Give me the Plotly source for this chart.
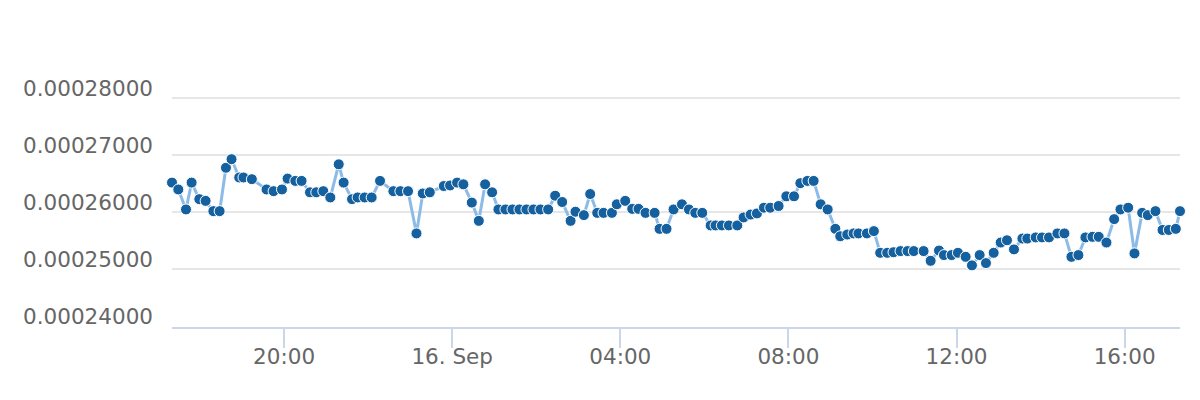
import plotly.graph_objects as go

# Time stamps (HH:MM) on 15 Sep and 16 Sep
times_day1 = ["17:20", "17:29", "17:40", "17:48", "17:59", "18:08", "18:19", "18:28", "18:37", "18:45",
              "18:56", "19:02", "19:14", "19:35", "19:45", "19:57", "20:05", "20:16", "20:25", "20:37",
              "20:46", "20:56", "21:06", "21:18", "21:25", "21:37", "21:45", "21:55", "22:05", "22:17",
              "22:36", "22:46", "22:57", "23:09", "23:18", "23:28", "23:48", "23:57"]
values_day1 = [0.0002652, 0.0002640, 0.0002605, 0.0002652, 0.0002623, 0.0002620, 0.0002602, 0.0002602,
               0.0002678, 0.0002693, 0.0002661, 0.0002661, 0.0002658, 0.0002640, 0.0002637, 0.0002640,
               0.0002659, 0.0002655, 0.0002655, 0.0002635, 0.0002635, 0.0002637, 0.0002626, 0.0002684,
               0.0002652, 0.0002623, 0.0002626, 0.0002626, 0.0002626, 0.0002655, 0.0002637, 0.0002637,
               0.0002637, 0.0002563, 0.0002633, 0.0002635, 0.0002646, 0.0002647]

times_day2 = ["00:07", "00:16", "00:28", "00:38", "00:47", "00:57", "01:06", "01:16", "01:26", "01:36",
              "01:46", "01:56", "02:06", "02:17", "02:27", "02:37", "02:49", "02:56", "03:08", "03:17",
              "03:27", "03:36", "03:48", "03:55", "04:07", "04:17", "04:26", "04:36", "04:49", "04:56",
              "05:06", "05:16", "05:28", "05:38", "05:47", "05:57", "06:09", "06:16", "06:25", "06:35",
              "06:47", "06:56", "07:06", "07:15", "07:25", "07:34", "07:46", "07:57", "08:08", "08:17",
              "08:27", "08:36", "08:46", "08:56", "09:07", "09:14", "09:24", "09:33", "09:40", "09:52",
              "10:02", "10:11", "10:21", "10:30", "10:40", "10:50", "10:59", "11:13", "11:23", "11:35",
              "11:42", "11:53", "12:02", "12:13", "12:22", "12:33", "12:42", "12:53", "13:03", "13:12",
              "13:22", "13:34", "13:41", "13:53", "14:02", "14:12", "14:24", "14:34", "14:44", "14:54",
              "15:04", "15:14", "15:23", "15:34", "15:45", "15:54", "16:05", "16:14", "16:25", "16:33",
              "16:44", "16:54", "17:03", "17:13", "17:19"]
values_day2 = [0.0002652, 0.0002649, 0.0002617, 0.0002585, 0.0002649, 0.0002635, 0.0002605, 0.0002605,
               0.0002605, 0.0002605, 0.0002605, 0.0002605, 0.0002605, 0.0002605, 0.0002629, 0.0002618,
               0.0002585, 0.0002601, 0.0002595, 0.0002632, 0.0002599, 0.0002599, 0.0002599, 0.0002614,
               0.0002620, 0.0002606, 0.0002606, 0.0002599, 0.0002599, 0.0002571, 0.0002571, 0.0002605,
               0.0002614, 0.0002605, 0.0002599, 0.0002599, 0.0002577, 0.0002577, 0.0002577, 0.0002577,
               0.0002577, 0.0002591, 0.0002596, 0.0002598, 0.0002608, 0.0002608, 0.0002611, 0.0002628,
               0.0002628, 0.0002651, 0.0002655, 0.0002655, 0.0002614, 0.0002605, 0.0002571, 0.0002558,
               0.0002561, 0.0002563, 0.0002563, 0.0002563, 0.0002567, 0.0002529, 0.0002529, 0.0002530,
               0.0002532, 0.0002532, 0.0002532, 0.0002532, 0.0002515, 0.0002533, 0.0002525, 0.0002525,
               0.0002529, 0.0002522, 0.0002507, 0.0002525, 0.0002511, 0.0002529, 0.0002547, 0.0002551,
               0.0002535, 0.0002554, 0.0002554, 0.0002556, 0.0002556, 0.0002556, 0.0002563, 0.0002563,
               0.0002522, 0.0002525, 0.0002556, 0.0002557, 0.0002557, 0.0002547, 0.0002588, 0.0002605,
               0.0002608, 0.0002528, 0.0002599, 0.0002595, 0.0002602, 0.0002569, 0.0002569, 0.0002571,
               0.0002602]

x_tick_vals = ["2023-09-15 20:00", "2023-09-16 00:00", "2023-09-16 04:00",
               "2023-09-16 08:00", "2023-09-16 12:00", "2023-09-16 16:00"]
x_tick_text = ["20:00", "16. Sep", "04:00", "08:00", "12:00", "16:00"]
y_tick_vals = [0.00024, 0.00025, 0.00026, 0.00027, 0.00028]

x = ["2023-09-15 " + t for t in times_day1] + ["2023-09-16 " + t for t in times_day2]
y = values_day1 + values_day2

FONT = "DejaVu Sans"

fig = go.Figure()
fig.add_trace(go.Scatter(
    x=x, y=y, mode="lines+markers",
    line=dict(color="#8dbbe8", width=3),
    marker=dict(color="#15609e", size=11, line=dict(color="#ffffff", width=1)),
    cliponaxis=False,
    showlegend=False,
))

fig.update_layout(
    width=1200, height=400,
    margin=dict(l=172, r=20, t=97, b=73),
    paper_bgcolor="#ffffff", plot_bgcolor="#ffffff",
    font=dict(family=FONT, size=21.5, color="#666666"),
    xaxis=dict(
        type="date",
        range=[x[0], x[-1]],
        tickvals=x_tick_vals, ticktext=x_tick_text,
        showgrid=False, zeroline=False,
        showline=True, linecolor="#ccd6eb", linewidth=2,
        ticks="outside", ticklen=19, tickwidth=2, tickcolor="#ccd6eb",
        ticklabelstandoff=-10,
        tickfont=dict(family=FONT, size=21.5, color="#666666"),
    ),
    yaxis=dict(
        range=[0.0002399, 0.0002802],
        tickvals=y_tick_vals, tickformat=".8f",
        showgrid=True, gridcolor="#e6e6e6", gridwidth=2,
        zeroline=False, showline=False, ticks="",
        ticklabelstandoff=18, ticklabelshift=-10,
        tickfont=dict(family=FONT, size=21.5, color="#666666"),
    ),
)

fig.write_html("out.html")
